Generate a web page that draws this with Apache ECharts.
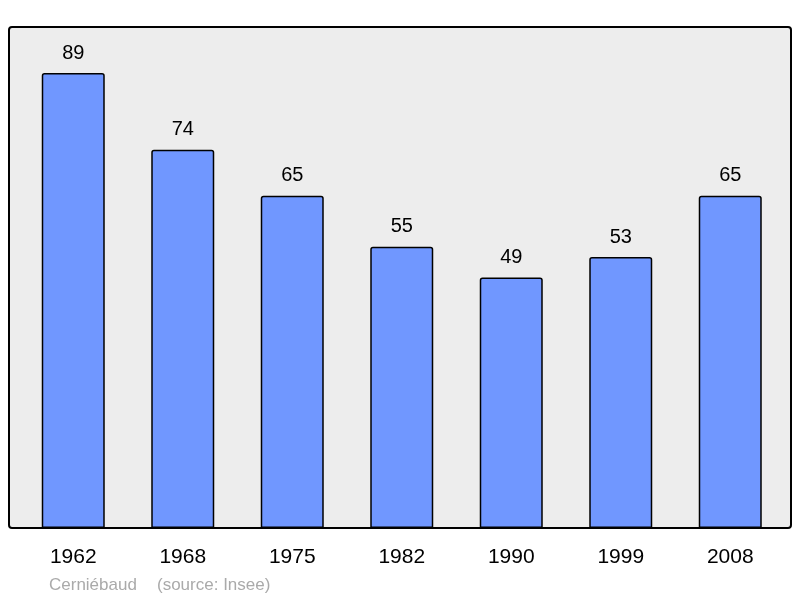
<!DOCTYPE html>
<html>
<head>
<meta charset="utf-8">
<script src="https://cdn.jsdelivr.net/npm/echarts@6/dist/echarts.min.js"></script>
<style>
  html, body { margin: 0; padding: 0; background: #fff; }
  #chart { width: 800px; height: 598px; }
</style>
</head>
<body>
<div id="chart"></div>
<script>
var years = ['1962', '1968', '1975', '1982', '1990', '1999', '2008'];
var population = [89, 74, 65, 55, 49, 53, 65];

var chart = echarts.init(document.getElementById('chart'));

chart.setOption({
  animation: false,
  textStyle: { fontFamily: 'Liberation Sans' },
  graphic: [
    {
      type: 'rect',
      z: -10,
      shape: { x: 9, y: 27, width: 782, height: 501, r: 3 },
      style: { fill: '#ededed', stroke: '#000', lineWidth: 2 }
    },
    {
      type: 'text',
      left: 49, top: 577,
      style: { text: 'Cerniébaud', fill: '#aaaaaa', font: '17px "Liberation Sans"' }
    },
    {
      type: 'text',
      left: 157, top: 577,
      style: { text: '(source: Insee)', fill: '#aaaaaa', font: '17px "Liberation Sans"' }
    }
  ],
  grid: { left: 18.5, right: 15, top: 27, bottom: 70 },
  xAxis: {
    type: 'category',
    data: years,
    axisLine: { show: false },
    axisTick: { show: false },
    axisLabel: { fontSize: 21, color: '#000', margin: 19 }
  },
  yAxis: {
    type: 'value',
    min: 0,
    max: 98,
    show: false,
    splitLine: { show: false }
  },
  series: [{
    type: 'bar',
    data: population,
    barWidth: 63,
    itemStyle: {
      color: '#7097ff',
      borderColor: '#000',
      borderWidth: 1.5,
      borderRadius: [2, 2, 0, 0]
    },
    label: {
      show: true,
      position: 'top',
      distance: 10,
      fontSize: 20,
      color: '#000'
    }
  }]
});
</script>
</body>
</html>
